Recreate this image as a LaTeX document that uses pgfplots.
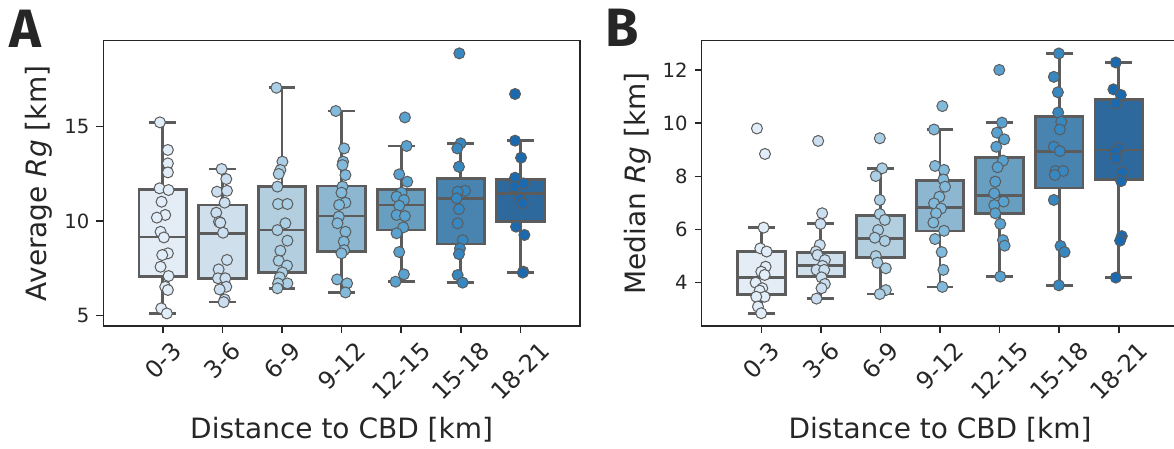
\documentclass[border=0pt]{standalone}
\usepackage{pgfplots}
\pgfplotsset{compat=1.18}
\usepgfplotslibrary{statistics}
\usepackage{graphicx}
\usepackage{fontspec}
\setmainfont{DejaVu Sans}
\newfontfamily\panelfont{Fira Sans}
\definecolor{spine}{HTML}{262626}
\definecolor{lg}{HTML}{5C5C5C}
\definecolor{P0}{HTML}{E1EDF8}
\definecolor{P1}{HTML}{CBDFF1}
\definecolor{P2}{HTML}{ABD0E6}
\definecolor{P3}{HTML}{82BADB}
\definecolor{P4}{HTML}{59A2CF}
\definecolor{P5}{HTML}{3787C0}
\definecolor{P6}{HTML}{1B6AAF}
\definecolor{B0}{HTML}{E4EDF5}
\definecolor{B1}{HTML}{D0DFEC}
\definecolor{B2}{HTML}{B3CEDE}
\definecolor{B3}{HTML}{8DB7D0}
\definecolor{B4}{HTML}{689EC0}
\definecolor{B5}{HTML}{4884AF}
\definecolor{B6}{HTML}{2E699D}
\pgfplotsset{
  panel/.style={
    scale only axis, width=238.35pt, height=142.65pt,
    xmin=-1, xmax=7, xtick={0,...,6},
    xticklabels={\rotatebox{45}{0-3},\rotatebox{45}{3-6},\rotatebox{45}{6-9},\rotatebox{45}{9-12},\rotatebox{45}{12-15},\rotatebox{45}{15-18},\rotatebox{45}{18-21}},
    axis line style={draw=spine, line width=0.75pt},
    tick style={draw=spine, line width=0.75pt},
    tick align=outside, major tick length=3.5pt,
    xtick pos=bottom, ytick pos=left,
    tick label style={font=\fontsize{9.8}{11}\selectfont, text=spine},
    xticklabel style={font=\fontsize{12}{13}\selectfont},
    label style={font=\fontsize{14}{16}\selectfont, text=spine},
    /pgf/number format/assume math mode=true,
    xlabel={Distance to CBD [km]},
    xlabel style={at={(axis description cs:0.5,-0.396)}, anchor=base},
    ylabel style={at={(axis description cs:-0.135,0.5)}, anchor=center, rotate=0},
    boxplot/draw direction=y,
    clip=false,
  },
  bp/.style={draw=lg, line width=1.4pt, solid, line join=miter, fill=#1},
  pts/.style={only marks, mark=*, mark size=2.75pt, mark options={fill=#1, draw=lg, line width=0.5pt}},
}
\begin{document}
\begin{tikzpicture}
% ---------------- Panel A ----------------
\begin{axis}[panel, at={(51.65pt,61.5pt)}, anchor=south west,
  ymin=4.455, ymax=19.55, ytick={5,10,15},
  ylabel={Average \textit{Rg} [km]}]
\addplot[bp=B0, boxplot prepared={draw position=0, lower whisker=5.13, lower quartile=7.06, median=9.16, upper quartile=11.67, upper whisker=15.23, box extend=0.8, whisker extend=0.45}] coordinates {};
\addplot[bp=B1, boxplot prepared={draw position=1, lower whisker=5.72, lower quartile=6.98, median=9.36, upper quartile=10.86, upper whisker=12.76, box extend=0.8, whisker extend=0.45}] coordinates {};
\addplot[bp=B2, boxplot prepared={draw position=2, lower whisker=6.45, lower quartile=7.29, median=9.53, upper quartile=11.83, upper whisker=17.06, box extend=0.8, whisker extend=0.45}] coordinates {};
\addplot[bp=B3, boxplot prepared={draw position=3, lower whisker=6.23, lower quartile=8.39, median=10.27, upper quartile=11.86, upper whisker=15.83, box extend=0.8, whisker extend=0.45}] coordinates {};
\addplot[bp=B4, boxplot prepared={draw position=4, lower whisker=6.80, lower quartile=9.53, median=10.86, upper quartile=11.68, upper whisker=13.98, box extend=0.8, whisker extend=0.45}] coordinates {};
\addplot[bp=B5, boxplot prepared={draw position=5, lower whisker=6.75, lower quartile=8.79, median=11.21, upper quartile=12.27, upper whisker=14.12, box extend=0.8, whisker extend=0.45}] coordinates {};
\addplot[bp=B6, boxplot prepared={draw position=6, lower whisker=7.28, lower quartile=9.97, median=11.47, upper quartile=12.21, upper whisker=14.26, box extend=0.8, whisker extend=0.45}] coordinates {};
\addplot[pts=P0] coordinates {(-0.050,15.23) (0.084,13.77) (0.084,13.06) (0.084,12.58) (-0.056,11.74) (0.095,11.65) (-0.022,11.03) (0.039,10.33) (-0.101,10.19) (-0.039,9.44) (0.017,9.14) (0.084,8.30) (-0.011,8.21) (-0.039,7.59) (0.095,7.10) (0.039,6.53) (0.084,6.36) (-0.028,5.39) (0.067,5.12)};
\addplot[pts=P1] coordinates {(0.986,12.76) (1.064,12.23) (0.908,11.56) (1.076,11.61) (1.036,10.98) (0.896,10.45) (0.941,9.97) (0.964,9.92) (1.010,9.39) (1.076,7.95) (0.936,7.45) (0.924,6.98) (1.048,6.98) (1.064,6.53) (0.952,6.39) (1.036,5.86) (1.020,5.72)};
\addplot[pts=P2] coordinates {(1.905,17.06) (2.006,13.15) (1.972,12.71) (1.944,12.50) (1.922,11.83) (1.933,10.91) (2.090,10.91) (2.056,9.89) (1.922,9.53) (2.090,8.97) (1.972,8.44) (1.944,7.91) (2.084,7.65) (2.006,7.29) (1.961,7.03) (2.090,6.71) (1.933,6.71) (1.922,6.45)};
\addplot[pts=P3] coordinates {(2.902,15.83) (3.042,13.85) (3.025,13.15) (3.014,12.97) (3.064,12.44) (3.014,11.83) (2.997,11.51) (3.064,10.98) (2.958,10.86) (2.952,10.24) (2.930,9.89) (3.064,9.44) (3.036,8.92) (3.042,8.47) (2.997,8.30) (2.924,6.92) (3.092,6.71) (3.064,6.23)};
\addplot[pts=P4] coordinates {(4.062,15.49) (4.090,13.98) (3.966,12.48) (4.101,12.09) (4.006,11.51) (3.922,11.30) (4.045,11.12) (3.966,10.82) (3.922,10.33) (4.062,10.27) (4.034,9.67) (3.922,9.36) (3.966,8.37) (4.045,7.19) (3.905,6.80)};
\addplot[pts=P5] coordinates {(4.975,18.88) (4.997,14.12) (4.941,13.85) (4.969,12.88) (5.070,11.61) (4.947,11.56) (4.930,11.21) (4.969,10.64) (4.947,9.89) (5.031,9.00) (4.986,8.56) (4.969,8.26) (4.947,7.15) (5.031,6.75)};
\addplot[pts=P6] coordinates {(5.910,16.73) (5.910,14.26) (6.011,13.36) (5.910,12.30) (6.050,12.00) (5.899,11.83) (5.994,11.16) (6.039,10.94) (5.927,9.71) (6.067,9.27) (6.050,7.33) (6.039,7.28)};
\end{axis}
% ---------------- Panel B ----------------
\begin{axis}[panel, at={(350.85pt,61.5pt)}, anchor=south west,
  ymin=2.37, ymax=13.10, ytick={4,6,8,10,12},
  ylabel={Median \textit{Rg} [km]}]
\addplot[bp=B0, boxplot prepared={draw position=0, lower whisker=2.85, lower quartile=3.55, median=4.19, upper quartile=5.18, upper whisker=6.07, box extend=0.8, whisker extend=0.45}] coordinates {};
\addplot[bp=B1, boxplot prepared={draw position=1, lower whisker=3.40, lower quartile=4.23, median=4.64, upper quartile=5.13, upper whisker=6.21, box extend=0.8, whisker extend=0.45}] coordinates {};
\addplot[bp=B2, boxplot prepared={draw position=2, lower whisker=3.57, lower quartile=4.96, median=5.67, upper quartile=6.52, upper whisker=8.30, box extend=0.8, whisker extend=0.45}] coordinates {};
\addplot[bp=B3, boxplot prepared={draw position=3, lower whisker=3.84, lower quartile=5.94, median=6.82, upper quartile=7.83, upper whisker=9.76, box extend=0.8, whisker extend=0.45}] coordinates {};
\addplot[bp=B4, boxplot prepared={draw position=4, lower whisker=4.23, lower quartile=6.61, median=7.28, upper quartile=8.72, upper whisker=10.02, box extend=0.8, whisker extend=0.45}] coordinates {};
\addplot[bp=B5, boxplot prepared={draw position=5, lower whisker=3.90, lower quartile=7.56, median=8.94, upper quartile=10.24, upper whisker=12.62, box extend=0.8, whisker extend=0.45}] coordinates {};
\addplot[bp=B6, boxplot prepared={draw position=6, lower whisker=4.19, lower quartile=7.88, median=8.99, upper quartile=10.90, upper whisker=12.28, box extend=0.8, whisker extend=0.45}] coordinates {};
\addplot[pts=P0] coordinates {(-0.073,9.80) (0.062,8.84) (0.039,6.07) (-0.017,5.29) (0.090,5.17) (0.073,4.60) (0.000,4.41) (0.056,4.29) (-0.095,4.00) (0.017,3.79) (-0.028,3.70) (0.056,3.47) (-0.084,3.47) (-0.056,3.10) (0.000,2.85)};
\addplot[pts=P1] coordinates {(0.955,9.33) (1.022,6.61) (0.994,6.21) (0.983,5.42) (0.916,5.17) (0.944,5.04) (1.067,4.85) (1.028,4.63) (0.927,4.48) (1.056,4.48) (1.011,4.20) (1.067,3.95) (1.011,3.79) (0.927,3.40)};
\addplot[pts=P2] coordinates {(1.989,9.43) (2.028,8.30) (1.922,8.01) (1.989,7.11) (1.989,6.58) (2.073,6.36) (1.961,5.98) (1.905,5.69) (2.073,5.57) (1.922,5.00) (1.950,4.75) (2.090,4.54) (2.090,3.72) (1.989,3.57)};
\addplot[pts=P3] coordinates {(3.039,10.64) (2.899,9.76) (2.916,8.39) (3.067,8.24) (3.056,7.88) (3.084,7.61) (2.989,7.23) (2.899,6.98) (3.017,6.79) (2.933,6.61) (2.888,6.26) (3.067,5.95) (2.916,5.64) (3.028,5.15) (3.056,4.48) (3.039,3.84)};
\addplot[pts=P4] coordinates {(3.994,12.00) (4.039,10.02) (3.955,9.64) (4.078,9.39) (3.944,9.11) (4.056,8.59) (3.966,8.34) (3.927,7.80) (3.910,7.36) (4.067,7.05) (3.910,6.92) (3.927,6.61) (4.011,6.21) (4.056,5.60) (4.084,5.39) (4.011,4.23)};
\addplot[pts=P5] coordinates {(4.994,12.62) (4.910,11.74) (4.978,11.16) (4.983,10.40) (5.034,10.05) (5.011,9.76) (4.910,9.11) (5.011,8.95) (4.938,8.20) (5.067,8.20) (4.927,8.05) (4.910,7.11) (5.022,5.38) (5.090,5.15) (4.994,3.90)};
\addplot[pts=P6] coordinates {(5.950,12.28) (5.910,11.27) (6.034,11.06) (5.950,10.74) (5.994,9.05) (5.938,8.92) (5.950,8.67) (6.062,8.15) (6.039,7.82) (6.050,5.75) (6.022,5.58) (5.950,4.19)};
\end{axis}
\node[anchor=base west, inner sep=0, text=spine, font=\panelfont\bfseries\fontsize{27}{27}\selectfont] at (4.5pt,200.5pt) {A};
\node[anchor=base west, inner sep=0, text=spine, font=\panelfont\bfseries\fontsize{27}{27}\selectfont] at (302.5pt,201.2pt) {B};
\pgfresetboundingbox
\path[use as bounding box] (0pt,0pt) rectangle (587pt,224.5pt);
\end{tikzpicture}
\end{document}
